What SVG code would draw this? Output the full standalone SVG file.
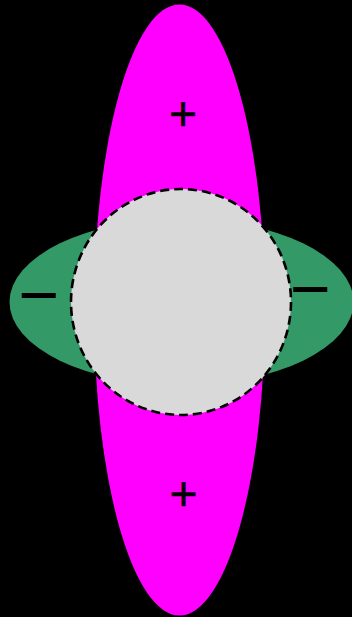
<svg xmlns="http://www.w3.org/2000/svg" width="352" height="617" viewBox="0 0 352 617">
<style>
.sign{font-family:"Liberation Sans",Arial,sans-serif;fill:#000;text-anchor:middle}
.plus{stroke:#000;stroke-width:0.5}
</style>
<rect width="352" height="617" fill="#000"/>
<g id="lobe-pz"><ellipse cx="179.5" cy="310" rx="85.5" ry="305.5" fill="#ff00ff"/></g>
<g id="lobe-px"><ellipse cx="181.5" cy="302" rx="172" ry="83" fill="#339966"/></g>
<g id="core"><ellipse cx="181" cy="302" rx="110" ry="113" fill="#d9d9d9" stroke="#000" stroke-width="2.6" stroke-dasharray="9,5"/></g>
<g id="sign-top"><text class="sign plus" x="183" y="130" font-size="48">+</text></g>
<g id="sign-bottom"><text class="sign plus" x="183.5" y="510" font-size="48">+</text></g>
<g id="sign-left"><text class="sign" x="39" y="319" font-size="70">−</text></g>
<g id="sign-right"><text class="sign" x="310.5" y="313" font-size="70">−</text></g>
</svg>
